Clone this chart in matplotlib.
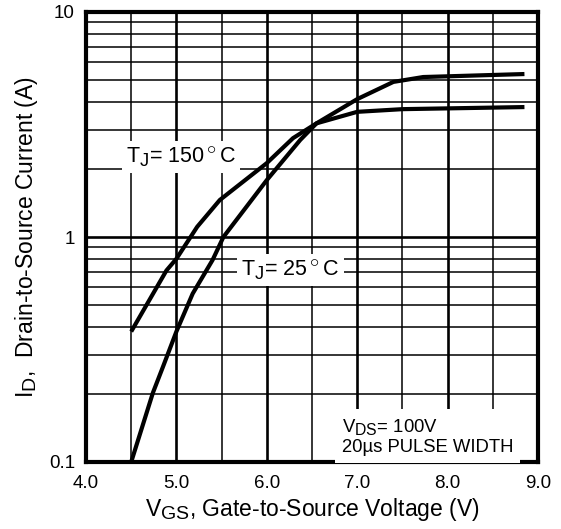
import numpy as np
import matplotlib
import matplotlib.pyplot as plt
from matplotlib.ticker import LogLocator, MultipleLocator, NullFormatter

plt.rcParams['font.family'] = ['Liberation Sans', 'DejaVu Sans']
plt.rcParams['mathtext.fontset'] = 'custom'
plt.rcParams['mathtext.rm'] = 'Liberation Sans'
plt.rcParams['mathtext.it'] = 'Liberation Sans'
# subscripts in the original are only slightly smaller than the text
try:
    import matplotlib._mathtext as _mt
    _mt.SHRINK_FACTOR = 0.85
except Exception:
    pass

# curve data
vgs_25 = [4.5, 4.74, 4.85, 5.0, 5.18, 5.4, 5.52, 6.0, 6.37, 6.55, 7.0, 7.4, 7.73, 8.85]
id_25 = [0.1, 0.203, 0.264, 0.38, 0.56, 0.79, 1.0, 1.79, 2.7, 3.2, 4.1, 4.89, 5.14, 5.3]
vgs_150 = [4.5, 4.89, 5.0, 5.23, 5.48, 6.0, 6.29, 6.55, 7.0, 7.5, 8.85]
id_150 = [0.38, 0.71, 0.8, 1.11, 1.46, 2.13, 2.75, 3.2, 3.6, 3.7, 3.78]

x_ticks = [4.0, 5.0, 6.0, 7.0, 8.0, 9.0]
x_labels = ['4.0', '5.0', '6.0', '7.0', '8.0', '9.0']
y_ticks = [0.1, 1, 10]
y_labels = ['0.1', '1', '10']

fig = plt.figure(figsize=(5.61, 5.29), dpi=100)
ax = fig.add_axes([86/561, 67/529, 452/561, 450/529])
ax.set_yscale('log')
ax.set_xlim(4.0, 9.0)
ax.set_ylim(0.1, 10)

ax.set_xticks(x_ticks)
ax.set_xticklabels(x_labels)
ax.set_yticks(y_ticks)
ax.set_yticklabels(y_labels)
ax.xaxis.set_minor_locator(MultipleLocator(0.5))
ax.yaxis.set_minor_locator(LogLocator(base=10, subs=np.arange(2, 10)))
ax.yaxis.set_minor_formatter(NullFormatter())
ax.tick_params(which='both', length=0, labelsize=13.5)
ax.tick_params(axis='x', pad=9)
ax.tick_params(axis='y', pad=8)

ax.grid(which='major', color='black', lw=1.9)
ax.grid(which='minor', color='black', lw=1.1)
for s in ax.spines.values():
    s.set_linewidth(3)
ax.set_axisbelow(True)

ax.plot(vgs_25, id_25, color='black', lw=3, solid_capstyle='butt')
ax.plot(vgs_150, id_150, color='black', lw=3, solid_capstyle='butt')

ax.text(5.05, 2.27, r'T$_\mathregular{J}$= 150$^\circ$C', fontsize=15.5,
        ha='center', va='center', bbox=dict(facecolor='white', edgecolor='none', pad=3))
ax.text(6.26, 0.713, r'T$_\mathregular{J}$= 25$^\circ$C', fontsize=15.5,
        ha='center', va='center', bbox=dict(facecolor='white', edgecolor='none', pad=3))
ax.text(6.83, 0.13, r'V$_\mathregular{DS}$= 100V' + '\n20µs PULSE WIDTH', fontsize=13.3,
        ha='left', va='center', linespacing=1.2,
        bbox=dict(facecolor='white', edgecolor='none', pad=5))

ax.set_xlabel(r'V$_\mathregular{GS}$, Gate-to-Source Voltage (V)', fontsize=16.5, labelpad=3)
ax.set_ylabel(r'I$_\mathregular{D}$,  Drain-to-Source Current (A)', fontsize=16.5, labelpad=6)

fig.savefig('out.png', dpi=100)
